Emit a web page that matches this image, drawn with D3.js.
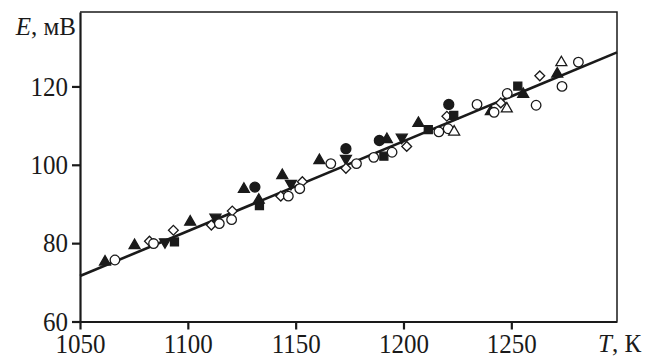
<!DOCTYPE html>
<html>
<head>
<meta charset="utf-8">
<script src="https://cdn.jsdelivr.net/npm/d3@7"></script>
<style>
  html, body { margin: 0; padding: 0; background: #fff; }
  svg { display: block; }
  text { font-family: "Liberation Serif", "Times New Roman", serif; fill: #1a1a1a; }
  .tick text { transform-box: fill-box; transform-origin: center; transform: scaleY(1.1); }
</style>
</head>
<body>
<svg id="chart"></svg>
<script>
// E (mV) vs T (K), several experimental series + linear fit
const triUpFilled = [
  [1061.6, 75.2], [1075.3, 79.4], [1101.1, 85.4], [1126.0, 93.8], [1132.9, 91.0],
  [1143.8, 97.3], [1161.0, 101.1], [1192.3, 106.5], [1206.9, 110.6], [1240.5, 113.6],
  [1255.5, 118.0], [1271.3, 123.2]
];
const circleFilled = [[1131.1, 94.3], [1173.3, 104.1], [1188.8, 106.2], [1221.0, 115.4]];
const triDownFilled = [[1089.4, 80.3], [1112.8, 86.6], [1147.8, 95.2], [1173.3, 101.6], [1199.2, 107.0]];
const squareFilled = [
  [1093.8, 80.3], [1133.2, 89.6], [1190.9, 102.2], [1211.5, 109.0], [1223.3, 112.6], [1253.0, 120.1]
];
const diamondOpen = [
  [1082.2, 80.5], [1093.3, 83.3], [1110.9, 84.6], [1120.6, 88.2], [1143.1, 92.0], [1153.1, 95.7],
  [1173.3, 99.1], [1201.5, 104.7], [1220.1, 112.4], [1245.1, 115.8], [1263.2, 122.7]
];
const circleOpen = [
  [1066.2, 75.7], [1084.1, 79.9], [1114.6, 85.0], [1120.3, 86.0], [1146.6, 92.0], [1151.9, 93.9],
  [1166.3, 100.3], [1178.2, 100.3], [1186.2, 101.9], [1194.7, 103.2], [1216.4, 108.4], [1220.7, 109.2],
  [1234.1, 115.4], [1242.0, 113.4], [1248.1, 118.2], [1261.5, 115.2], [1273.5, 120.0], [1281.1, 126.2]
];
const triUpOpen = [[1223.5, 108.4], [1247.9, 114.3], [1273.2, 126.1]];
const fitLine = [[1050, 71.6], [1299, 128.7]];

const xTicks = [1050, 1100, 1150, 1200, 1250];
const yTicks = [60, 80, 100, 120];

const width = 658, height = 358;
const m = { top: 12, right: 41, bottom: 36.5, left: 80 };
const ink = "#1a1a1a";

const svg = d3.select("#chart").attr("width", width).attr("height", height);

const x = d3.scaleLinear().domain([1050, 1299]).range([m.left, width - m.right]);
const y = d3.scaleLinear().domain([60, 139]).range([height - m.bottom, m.top]);

// frame top/right
svg.append("path")
  .attr("d", `M${x.range()[0]},${y.range()[1]}H${x.range()[1]}V${y.range()[0]}`)
  .attr("fill", "none").attr("stroke", ink).attr("stroke-width", 1.5);

const xAxis = svg.append("g")
  .attr("transform", `translate(0,${y.range()[0]})`)
  .call(d3.axisBottom(x).tickValues(xTicks).tickFormat(d3.format("d"))
    .tickSize(8).tickSizeOuter(0).tickPadding(5));
const yAxis = svg.append("g")
  .attr("transform", `translate(${m.left},0)`)
  .call(d3.axisLeft(y).tickValues(yTicks).tickFormat(d3.format("d"))
    .tickSize(8).tickSizeOuter(0).tickPadding(4));

[xAxis, yAxis].forEach(g => {
  g.select(".domain").attr("stroke", ink).attr("stroke-width", 2.2);
  g.selectAll(".tick line").attr("stroke", ink).attr("stroke-width", 2.2);
  g.selectAll(".tick text").attr("font-size", 25).attr("fill", ink)
    .attr("font-family", "Liberation Serif, serif");
});

// fit line
svg.append("path")
  .datum(fitLine)
  .attr("fill", "none").attr("stroke", ink).attr("stroke-width", 2.6)
  .attr("d", d3.line().x(d => x(d[0])).y(d => y(d[1])));

const series = [
  { data: triUpFilled, type: d3.symbolTriangle, size: 52, rot: 0, fill: ink },
  { data: triDownFilled, type: d3.symbolTriangle, size: 52, rot: 180, fill: ink },
  { data: circleFilled, type: d3.symbolCircle, size: 78, rot: 0, fill: ink },
  { data: diamondOpen, type: d3.symbolSquare, size: 48, rot: 45, fill: "#fff" },
  { data: squareFilled, type: d3.symbolSquare, size: 64, rot: 0, fill: ink },
  { data: circleOpen, type: d3.symbolCircle, size: 72, rot: 0, fill: "#fff" },
  { data: triUpOpen, type: d3.symbolTriangle, size: 52, rot: 0, fill: "#fff" }
];

series.forEach(s => {
  svg.append("g").selectAll("path")
    .data(s.data)
    .join("path")
    .attr("d", d3.symbol().type(s.type).size(s.size))
    .attr("transform", d => `translate(${x(d[0])},${y(d[1])}) rotate(${s.rot})`)
    .attr("fill", s.fill)
    .attr("stroke", ink)
    .attr("stroke-width", 1.3);
});

// axis titles
const yTitle = svg.append("text")
  .attr("x", 76).attr("y", 35).attr("text-anchor", "end").attr("font-size", 25);
yTitle.append("tspan").attr("font-style", "italic").text("E");
yTitle.append("tspan").text(", мВ");

const xTitle = svg.append("text")
  .attr("x", 598).attr("y", 352).attr("font-size", 25);
xTitle.append("tspan").attr("font-style", "italic").text("T");
xTitle.append("tspan").text(", К");
</script>
</body>
</html>
